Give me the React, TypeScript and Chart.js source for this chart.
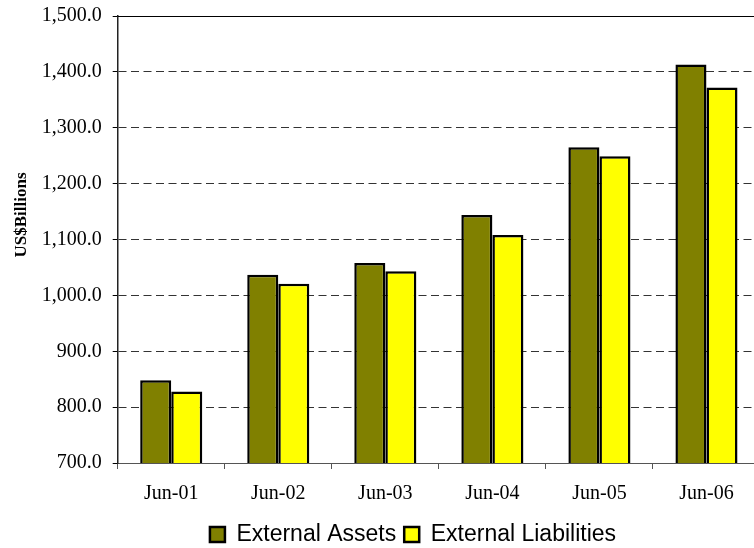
import React, { useEffect, useRef } from "react";
import { Chart, registerables } from "chart.js";

Chart.register(...registerables);

const categories = ["Jun-01", "Jun-02", "Jun-03", "Jun-04", "Jun-05", "Jun-06"];
const externalAssets = [848, 1037, 1058, 1144, 1265, 1413];
const externalLiabilities = [828, 1021, 1043, 1108, 1249, 1372];
const yMin = 700;
const yMax = 1500;
const yStep = 100;
const yTitle = "US$Billions";

const frameAndTitle = {
  id: "frameAndTitle",
  afterLayout(chart: any) {
    const lg = chart.legend;
    if (lg) {
      lg.left += 33;
      lg.right += 33;
    }
  },
  afterDraw(chart: any) {
    const { ctx, chartArea } = chart;
    ctx.save();
    ctx.strokeStyle = "#000";
    ctx.lineWidth = 1;
    ctx.beginPath();
    ctx.moveTo(chartArea.left, Math.round(chartArea.top) + 0.5);
    ctx.lineTo(chartArea.right, Math.round(chartArea.top) + 0.5);
    ctx.stroke();
    ctx.translate(22, 215);
    ctx.rotate(-Math.PI / 2);
    ctx.font = "bold 17px 'Liberation Serif'";
    ctx.fillStyle = "#000";
    ctx.textAlign = "center";
    ctx.textBaseline = "middle";
    ctx.fillText(yTitle, 0, 0);
    ctx.restore();
  },
};

export default function App() {
  const ref = useRef<HTMLCanvasElement>(null);
  useEffect(() => {
    document.body.style.margin = "0";
    const chart = new Chart(ref.current!, {
      type: "bar",
      data: {
        labels: categories,
        datasets: [
          {
            label: "External Assets",
            data: externalAssets,
            backgroundColor: "#808000",
            borderColor: "#000",
            borderWidth: 2.5,
            categoryPercentage: 0.58,
            barPercentage: 1,
          },
          {
            label: "External Liabilities",
            data: externalLiabilities,
            backgroundColor: "#FFFF00",
            borderColor: "#000",
            borderWidth: 2.5,
            categoryPercentage: 0.58,
            barPercentage: 1,
          },
        ],
      },
      options: {
        animation: false,
        responsive: false,
        layout: { padding: { left: 0, right: 0, top: 16, bottom: -8 } },
        plugins: {
          legend: {
            position: "bottom",
            labels: {
              font: { family: "'Liberation Sans'", size: 23 },
              color: "#000",
              boxWidth: 15,
              boxHeight: 15,
              padding: 8,
            },
          },
          tooltip: { enabled: false },
        },
        scales: {
          x: {
            offset: true,
            grid: {
              display: true,
              drawOnChartArea: false,
              offset: true,
              tickLength: 6,
              tickColor: "#555",
            },
            border: { display: true, color: "#555", width: 1 },
            ticks: {
              font: { family: "'Liberation Serif'", size: 20 },
              color: "#000",
              padding: 13,
              maxRotation: 0,
            },
            afterFit: (s: any) => {
              s.height = 52;
              s.paddingLeft = 0;
              s.paddingRight = 0;
            },
          },
          y: {
            min: yMin,
            max: yMax,
            grid: {
              color: "#333",
              lineWidth: 1,
              tickLength: 5,
              tickColor: "#000",
              tickBorderDash: [],
            },
            border: { display: true, color: "#222", width: 1.5, dash: [8, 4.5] },
            ticks: {
              stepSize: yStep,
              font: { family: "'Liberation Serif'", size: 20 },
              color: "#000",
              padding: 11,
              callback: (v: any) =>
                Number(v).toLocaleString("en-US", {
                  minimumFractionDigits: 1,
                  maximumFractionDigits: 1,
                }),
            },
            afterFit: (s: any) => {
              s.width = 117.7;
              s.paddingTop = 0;
              s.paddingBottom = 0;
            },
          },
        },
      },
      plugins: [frameAndTitle],
    });
    return () => chart.destroy();
  }, []);
  return (
    <div
      style={{
        position: "fixed",
        left: 0,
        top: 0,
        width: 754,
        height: 548,
        overflow: "hidden",
        background: "#fff",
      }}
    >
      <canvas
        ref={ref}
        width={760}
        height={548}
        style={{ width: 760, height: 548, display: "block" }}
      />
    </div>
  );
}
